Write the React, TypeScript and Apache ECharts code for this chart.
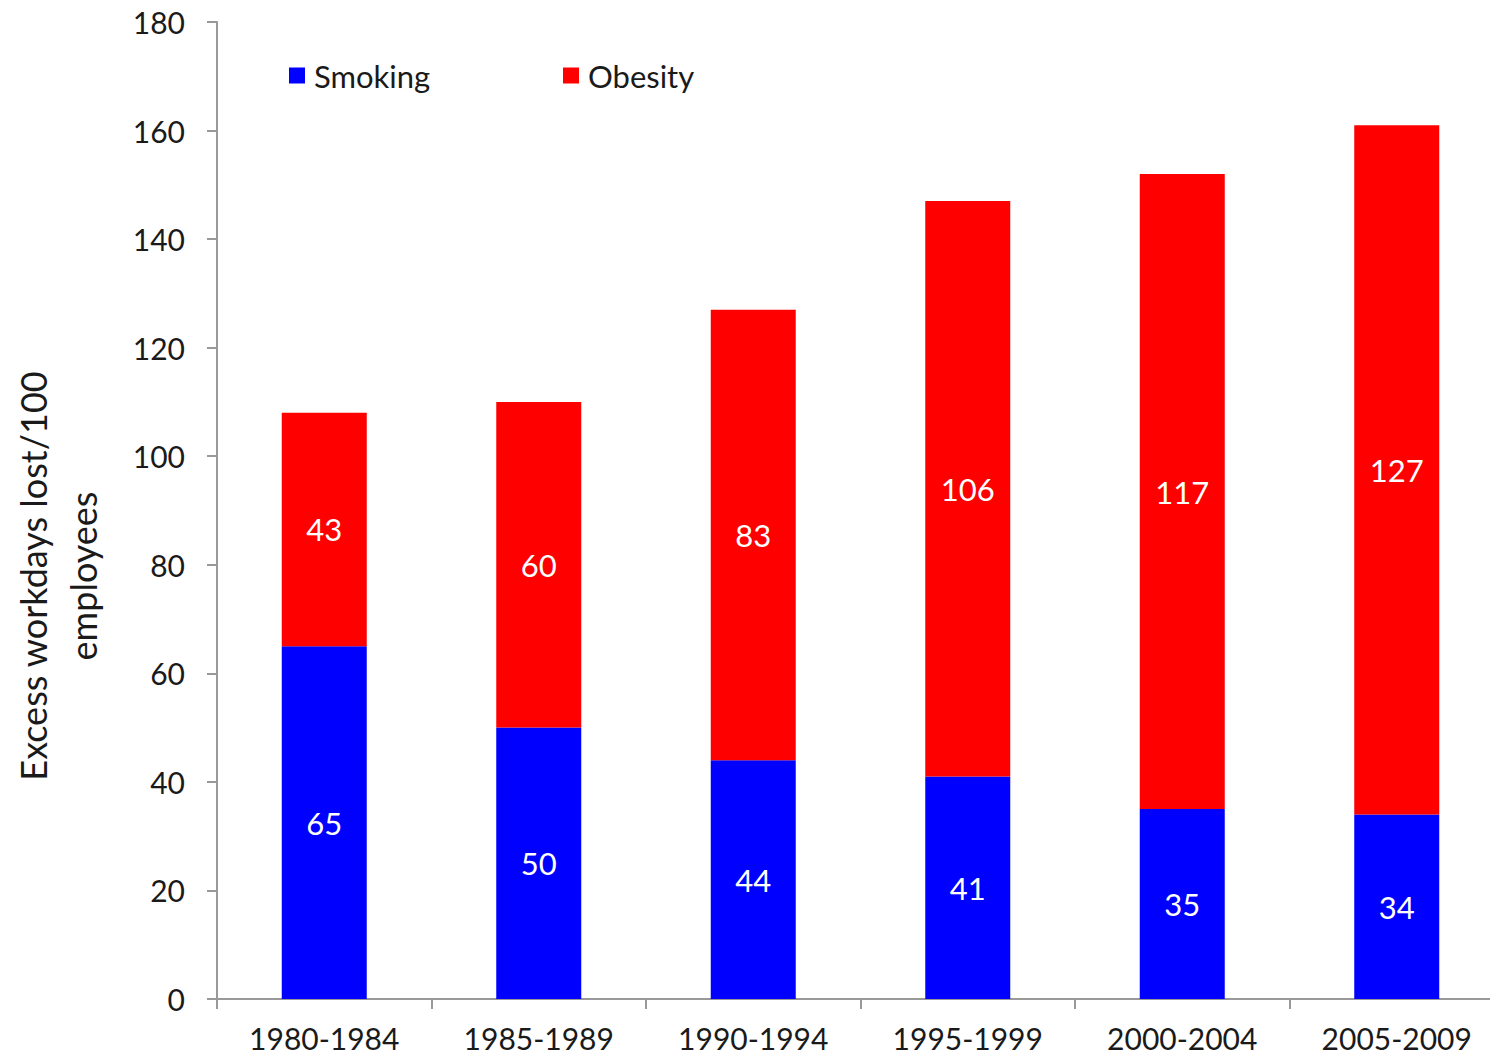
import React, { useEffect, useRef } from "react";
import * as echarts from "echarts";

const categories = ["1980-1984", "1985-1989", "1990-1994", "1995-1999", "2000-2004", "2005-2009"];
const smoking = [65, 50, 44, 41, 35, 34];
const obesity = [43, 60, 83, 106, 117, 127];
const yTicks = { min: 0, max: 180, interval: 20 };
const yTitle = "Excess workdays lost/100\nemployees";

const FONT = "Lato, 'Open Sans', sans-serif";

export default function App() {
  const ref = useRef<HTMLDivElement>(null);
  useEffect(() => {
    if (!ref.current) return;
    const chart = echarts.init(ref.current, null, { renderer: "svg" });
    const labelStyle = {
      show: true,
      position: "inside",
      color: "#ffffff",
      fontSize: 31,
      fontFamily: FONT,
    };
    const legendBase = {
      top: 60,
      padding: 0,
      itemWidth: 16,
      itemHeight: 16,
      itemGap: 8,
      icon: "rect",
      textStyle: { fontSize: 31, color: "#1a1a1a", fontFamily: FONT, padding: [0, 0, 0, 4] },
    };
    chart.setOption({
      animation: false,
      backgroundColor: "#ffffff",
      textStyle: { fontFamily: FONT },
      grid: { left: 217, top: 22, width: 1287, height: 977 },
      legend: [
        { ...legendBase, data: ["Smoking"], left: 289 },
        { ...legendBase, data: ["Obesity"], left: 563 },
      ],
      xAxis: {
        type: "category",
        data: categories,
        axisLine: { lineStyle: { color: "#999999", width: 2 } },
        axisTick: { show: true, length: 10, lineStyle: { color: "#999999", width: 2 } },
        axisLabel: { fontSize: 30, lineHeight: 30, color: "#1a1a1a", margin: 24, fontFamily: FONT },
        splitLine: { show: false },
      },
      yAxis: {
        type: "value",
        min: yTicks.min,
        max: yTicks.max,
        interval: yTicks.interval,
        axisLine: { show: true, lineStyle: { color: "#999999", width: 2 } },
        axisTick: { show: true, length: 10, lineStyle: { color: "#999999", width: 2 } },
        axisLabel: { fontSize: 30, color: "#1a1a1a", margin: 32, fontFamily: FONT },
        splitLine: { show: false },
      },
      graphic: [
        {
          type: "text",
          x: 58,
          y: 576,
          rotation: Math.PI / 2,
          style: {
            text: yTitle,
            fontSize: 36,
            lineHeight: 50,
            fontFamily: FONT,
            fill: "#1a1a1a",
            align: "center",
            verticalAlign: "middle",
          },
        },
      ],
      series: [
        {
          name: "Smoking",
          type: "bar",
          stack: "total",
          data: smoking,
          barWidth: 85,
          itemStyle: { color: "#0000ff" },
          label: labelStyle,
        },
        {
          name: "Obesity",
          type: "bar",
          stack: "total",
          data: obesity,
          barWidth: 85,
          itemStyle: { color: "#ff0000" },
          label: labelStyle,
        },
      ],
    });
    return () => chart.dispose();
  }, []);
  return (
    <div
      ref={ref}
      style={{ position: "fixed", left: 0, top: 0, width: 1520, height: 1057 }}
    />
  );
}
